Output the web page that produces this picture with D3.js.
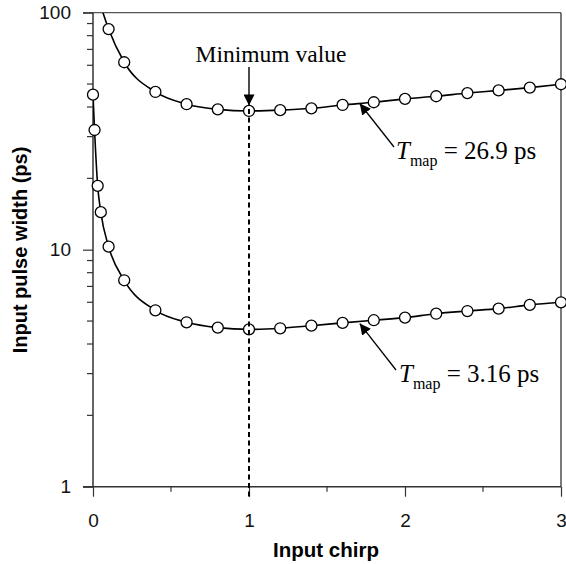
<!DOCTYPE html>
<html><head><meta charset="utf-8">
<script src="https://cdn.jsdelivr.net/npm/d3@7"></script>
<style>body{margin:0;background:#fff}svg{display:block}</style>
</head><body>
<svg id="chart" width="566" height="564"></svg>
<script>
// ---- data ----
const upperChirp = [0.1,0.2,0.4,0.6,0.8,1.0,1.2,1.4,1.6,1.8,2.0,2.2,2.4,2.6,2.8,3.0];
const upperWidth = [85.3,61.8,46.3,41.1,39.1,38.5,38.8,39.5,40.8,41.9,43.3,44.4,45.8,47.0,48.3,49.9];
const upperLeadChirp = [0.064];   // where the fitted upper curve leaves the top of the plot
const upperLeadWidth = [100];
const lowerChirp = [0,0.01,0.03,0.05,0.1,0.2,0.4,0.6,0.8,1.0,1.2,1.4,1.6,1.8,2.0,2.2,2.4,2.6,2.8,3.0];
const lowerWidth = [45.1,32,18.6,14.4,10.3,7.43,5.55,4.94,4.69,4.61,4.66,4.78,4.91,5.04,5.17,5.37,5.51,5.64,5.85,6.0];
const xTicks = [0,1,2,3];
const xMinorTicks = [0.5,1.5,2.5];
const yTicks = [1,10,100];
const yMinorTicks = [2,3,4,5,6,7,8,9,20,30,40,50,60,70,80,90];
const minChirp = 1.0;
const labels = {x:"Input chirp", y:"Input pulse width (ps)", min:"Minimum value"};
const tmapValues = ["26.9","3.16"];

// ---- layout ----
const svg = d3.select("#chart");
const L=93, R=561, T=12.7, B=486.7;
const x = d3.scaleLinear().domain([0,3]).range([L,R]);
const y = d3.scaleLog().domain([1,100]).range([B,T]);
const axisColor = "#333";

// frame: top and right
svg.append("line").attr("x1",83).attr("x2",R).attr("y1",T).attr("y2",T).attr("stroke","#555").attr("stroke-width",1.3);
svg.append("line").attr("x1",R).attr("x2",R).attr("y1",T).attr("y2",B).attr("stroke","#333").attr("stroke-width",1.3);

// y axis
const yAxis = svg.append("g").attr("transform",`translate(${L},0)`)
  .call(d3.axisLeft(y).tickValues(yTicks).tickFormat(d3.format("d")).tickSize(10).tickPadding(12));
yAxis.append("g").selectAll("line").data(yMinorTicks).join("line")
  .attr("x1",-6).attr("x2",0).attr("y1",d=>y(d)).attr("y2",d=>y(d)).attr("stroke",axisColor).attr("stroke-width",1.2);
yAxis.selectAll(".domain").attr("d",`M0,${T}V${B}`).attr("stroke",axisColor).attr("stroke-width",1.5);
yAxis.selectAll(".tick line").attr("stroke",axisColor).attr("stroke-width",1.2);
yAxis.selectAll("text").attr("font-family","Liberation Sans, Arial, sans-serif").attr("font-size",19).attr("fill","#111");

// x axis
const xAxis = svg.append("g").attr("transform",`translate(0,${B})`)
  .call(d3.axisBottom(x).tickValues(xTicks).tickFormat(d3.format("d")).tickSize(10).tickPadding(17));
xAxis.append("g").selectAll("line").data(xMinorTicks).join("line")
  .attr("x1",d=>x(d)).attr("x2",d=>x(d)).attr("y1",0).attr("y2",5).attr("stroke",axisColor).attr("stroke-width",1.2);
xAxis.selectAll(".domain").attr("d",`M83,0H${R}`).attr("stroke",axisColor).attr("stroke-width",1.5);
xAxis.selectAll(".tick line").attr("stroke",axisColor).attr("stroke-width",1.2);
xAxis.selectAll("text").attr("font-family","Liberation Sans, Arial, sans-serif").attr("font-size",19).attr("fill","#111");

// axis titles
svg.append("text").attr("x",(L+R)/2-1).attr("y",557).attr("text-anchor","middle")
  .attr("font-family","Liberation Sans, Arial, sans-serif").attr("font-weight","bold").attr("font-size",20.5).text(labels.x);
svg.append("text").attr("transform",`translate(27,250) rotate(-90)`).attr("text-anchor","middle")
  .attr("font-family","Liberation Sans, Arial, sans-serif").attr("font-weight","bold").attr("font-size",20).text(labels.y);

// clip
svg.append("clipPath").attr("id","clip").append("rect").attr("x",L).attr("y",T).attr("width",R-L+6).attr("height",B-T);

const line = d3.line().x(d=>x(d[0])).y(d=>y(d[1])).curve(d3.curveMonotoneX);
const upper = upperChirp.map((c,i)=>[c,upperWidth[i]]);
const upperLine = upperLeadChirp.map((c,i)=>[c,upperLeadWidth[i]]).concat(upper);
const lower = lowerChirp.map((c,i)=>[c,lowerWidth[i]]);

const g = svg.append("g").attr("clip-path","url(#clip)");
g.append("path").datum(upperLine).attr("d",line).attr("fill","none").attr("stroke","#000").attr("stroke-width",1.6);
g.append("path").datum(lower).attr("d",line).attr("fill","none").attr("stroke","#000").attr("stroke-width",1.6);

const pts = svg.append("g");
pts.selectAll(".u").data(upper).join("circle").attr("cx",d=>x(d[0])).attr("cy",d=>y(d[1])).attr("r",5.5)
  .attr("fill","#fff").attr("stroke","#000").attr("stroke-width",1.3);
pts.selectAll(".l").data(lower).join("circle").attr("cx",d=>x(d[0])).attr("cy",d=>y(d[1])).attr("r",5.5)
  .attr("fill","#fff").attr("stroke","#000").attr("stroke-width",1.3);

// dashed minimum line
const minUpper = upperWidth[upperChirp.indexOf(minChirp)];
svg.append("line").attr("x1",x(minChirp)).attr("x2",x(minChirp)).attr("y1",y(minUpper)-2).attr("y2",B+13)
  .attr("stroke","#000").attr("stroke-width",2).attr("stroke-dasharray","5,3.5");

// arrow marker
svg.append("defs").append("marker").attr("id","arr").attr("viewBox","0 0 10 10").attr("refX",10).attr("refY",5)
  .attr("markerWidth",11).attr("markerHeight",11).attr("markerUnits","userSpaceOnUse").attr("orient","auto")
  .append("path").attr("d","M0,0L10,5L0,10Z").attr("fill","#000");

// Minimum value annotation
svg.append("text").attr("x",271).attr("y",62).attr("text-anchor","middle")
  .attr("font-family","Liberation Serif, Times New Roman, serif").attr("font-size",23.5).text(labels.min);
svg.append("line").attr("x1",x(minChirp)).attr("x2",x(minChirp)).attr("y1",67).attr("y2",y(minUpper)-5.5)
  .attr("stroke","#000").attr("stroke-width",1.4).attr("marker-end","url(#arr)");

// T_map annotations
function tmap(val, tx, ty, ax, ay, px, py){
  svg.append("line").attr("x1",ax).attr("y1",ay).attr("x2",px).attr("y2",py)
    .attr("stroke","#000").attr("stroke-width",1.3).attr("marker-end","url(#arr)");
  const t = svg.append("text").attr("x",tx).attr("y",ty)
    .attr("font-family","Liberation Serif, Times New Roman, serif").attr("font-size",25);
  t.append("tspan").attr("font-style","italic").text("T");
  t.append("tspan").attr("font-size",16).attr("dy",7).text("map");
  t.append("tspan").attr("dy",-7).text(" = " + val + " ps");
}
tmap(tmapValues[0], 396, 159, 394, 147, x(1.71), y(42.4)+2.5);
tmap(tmapValues[1], 399, 382, 396, 370, x(1.71), y(5.0)+2.5);
</script>
</body></html>
